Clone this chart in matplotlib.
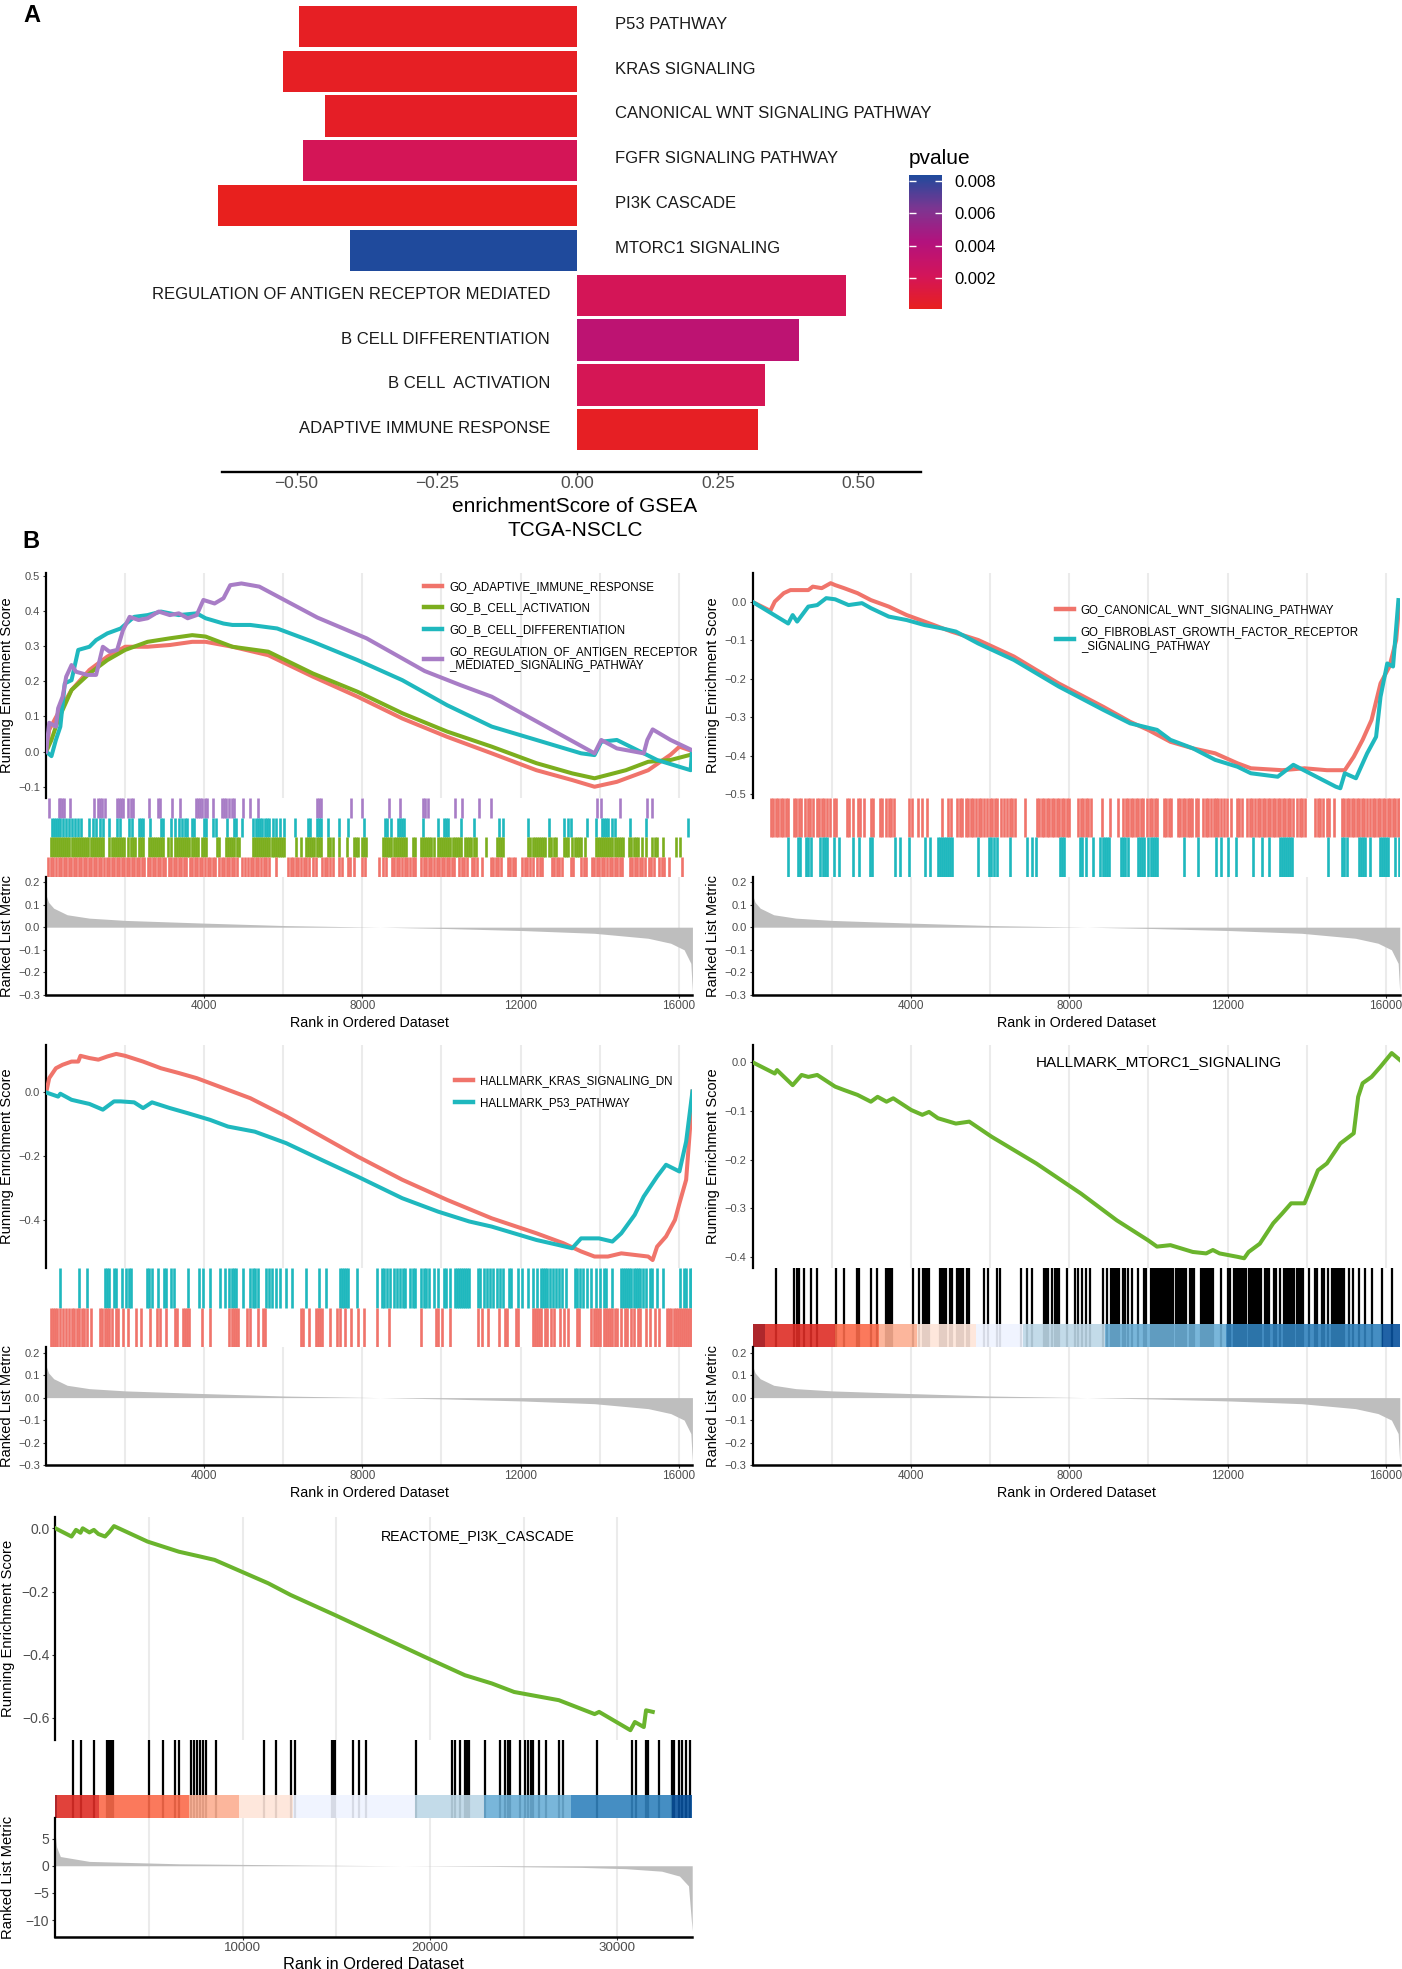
import numpy as np
import matplotlib
matplotlib.use("Agg")
import matplotlib.pyplot as plt
from matplotlib.colors import LinearSegmentedColormap, Normalize
from matplotlib.cm import ScalarMappable
from matplotlib.lines import Line2D

plt.rcParams['font.family'] = ['Liberation Sans', 'DejaVu Sans']
plt.rcParams['axes.unicode_minus'] = True

# ------------------------------------------------------------------ data: panel A
pathways = ["P53 PATHWAY", "KRAS SIGNALING", "CANONICAL WNT SIGNALING PATHWAY",
            "FGFR SIGNALING PATHWAY", "PI3K CASCADE", "MTORC1 SIGNALING",
            "REGULATION OF ANTIGEN RECEPTOR MEDIATED", "B CELL DIFFERENTIATION",
            "B CELL  ACTIVATION", "ADAPTIVE IMMUNE RESPONSE"]
enrichment = [-0.496, -0.525, -0.450, -0.488, -0.640, -0.405, 0.478, 0.394, 0.334, 0.321]
pvalues = [0.0003, 0.0003, 0.0004, 0.0021, 0.0001, 0.00836, 0.0021, 0.0036, 0.0020, 0.0003]
score_ticks = [-0.50, -0.25, 0.00, 0.25, 0.50]
pvalue_ticks = [0.002, 0.004, 0.006, 0.008]

# ------------------------------------------------------------------ data: ranked list metric
N_GENES = 16350
metric_rank = [0, 60, 190, 530, 1090, 2000, 4000, 6070, 8450, 10140, 12070, 13870, 15230, 15800, 16140, 16310, 16350]
metric_val = [0.14, 0.11, 0.084, 0.055, 0.040, 0.030, 0.018, 0.007, 0.0, -0.006, -0.015, -0.027, -0.049, -0.071, -0.10, -0.16, -0.29]
N_GENES_PI3K = 34000
metric5_rank = [0, 60, 264, 1815, 6590, 13750, 18520, 23300, 28070, 30450, 32370, 33320, 33800, 34000]
metric5_val = [5.5, 3.5, 1.7, 0.8, 0.36, 0.12, 0.0, -0.12, -0.3, -0.54, -1.0, -1.9, -3.7, -12.0]

# ------------------------------------------------------------------ data: panel B1 (GO immune sets)
adapt_rank = [0, 76, 302, 641, 1094, 1546, 1998, 2564, 3129, 3695, 4033, 4712, 5617, 6748, 7879, 9010, 10141, 11272, 12403, 13308, 13873, 14439, 15231, 15796, 16022, 16305]
adapt_es = [0.0, 0.062, 0.109, 0.175, 0.232, 0.270, 0.298, 0.298, 0.303, 0.312, 0.312, 0.298, 0.274, 0.213, 0.156, 0.094, 0.042, -0.005, -0.053, -0.081, -0.100, -0.086, -0.053, -0.009, 0.014, 0.003]
bact_rank = [0, 133, 302, 641, 1094, 1546, 1998, 2564, 3129, 3695, 4033, 4712, 5617, 6748, 7879, 9010, 10141, 11272, 12403, 13308, 13873, 14665, 15231, 15796, 16305]
bact_es = [0.0, 0.033, 0.090, 0.175, 0.222, 0.260, 0.289, 0.312, 0.322, 0.331, 0.327, 0.298, 0.284, 0.222, 0.170, 0.109, 0.057, 0.014, -0.033, -0.062, -0.076, -0.053, -0.029, -0.024, -0.009]
bdiff_rank = [0, 133, 245, 358, 471, 641, 811, 1094, 1263, 1546, 1885, 2225, 2564, 2904, 3354, 3807, 4033, 4486, 4712, 5164, 5843, 6748, 7879, 9010, 10141, 11272, 12403, 13534, 13873, 14043, 14439, 15118, 15457, 16305, 16339]
bdiff_es = [0.0, -0.013, 0.033, 0.071, 0.194, 0.203, 0.289, 0.298, 0.317, 0.336, 0.350, 0.383, 0.388, 0.398, 0.388, 0.393, 0.379, 0.364, 0.360, 0.360, 0.350, 0.312, 0.260, 0.203, 0.132, 0.071, 0.033, -0.005, -0.010, 0.028, 0.033, -0.005, -0.024, -0.053, 0.004]
regag_rank = [0, 76, 245, 302, 415, 506, 641, 754, 1037, 1263, 1433, 1603, 1795, 1942, 2111, 2338, 2564, 2847, 3129, 3354, 3580, 3807, 3977, 4260, 4486, 4656, 4939, 5391, 6861, 8105, 9575, 10480, 11272, 13873, 14043, 14439, 15118, 15208, 15344, 15796, 16339]
regag_es = [0.0, 0.082, 0.071, 0.123, 0.156, 0.213, 0.246, 0.227, 0.218, 0.218, 0.298, 0.284, 0.289, 0.345, 0.383, 0.374, 0.379, 0.398, 0.388, 0.393, 0.379, 0.388, 0.431, 0.421, 0.436, 0.473, 0.478, 0.469, 0.381, 0.322, 0.229, 0.189, 0.156, -0.005, 0.033, 0.009, -0.005, 0.033, 0.063, 0.033, 0.004]

regag_hits = [77, 312, 354, 407, 450, 610, 1206, 1313, 1366, 1419, 1494, 1792, 1845, 1898, 1952, 2080, 2133, 2207, 2612, 2825, 2889, 3176, 3389, 3784, 3837, 3890, 3954, 4018, 4071, 4210, 4444, 4497, 4561, 4614, 4700, 4763, 4976, 5147, 5349, 6840, 6893, 6947, 7724, 7990, 8683, 8959, 9535, 9588, 9652, 10333, 10525, 10940, 11260, 13933, 14039, 14518, 15190, 15339]
bdiff_hits = [141, 194, 248, 301, 354, 429, 503, 567, 642, 727, 802, 876, 1089, 1174, 1249, 1366, 1441, 1600, 1792, 1867, 2101, 2165, 2346, 2399, 2452, 2633, 2910, 2963, 3145, 3251, 3358, 3432, 3517, 3570, 3698, 3752, 3996, 4050, 4210, 4295, 4582, 4742, 4795, 4955, 5243, 5296, 5349, 5402, 5466, 5541, 5594, 5647, 5732, 5807, 5914, 6020, 6286, 6627, 6680, 6840, 6893, 6947, 7138, 7405, 7639, 8044, 8576, 8629, 8736, 8896, 8949, 9002, 9055, 9535, 9907, 10067, 10120, 10174, 10493, 10813, 11452, 11558, 12197, 12730, 13102, 13209, 13283, 13688, 13901, 14061, 14114, 14167, 14220, 14327, 14402, 14775, 15179, 16244]
bact_hits = [109, 163, 216, 269, 322, 376, 429, 482, 535, 589, 642, 695, 748, 802, 855, 908,
             961, 1015, 1068, 1121, 1174, 1228, 1281, 1334, 1387, 1441,
             1600, 1654, 1707, 1760, 1813, 1867, 1920, 1973, 2080, 2133, 2186, 2239, 2346, 2399, 2452,
             2591, 2644, 2697, 2750, 2804, 2857, 2910, 2963, 3091, 3145,
             3251, 3304, 3358, 3411, 3464, 3517, 3570, 3624, 3677, 3730, 3784, 3837, 3943, 3996, 4050,
             4316, 4369, 4550, 4604, 4657, 4710, 4763, 4817, 4870,
             5221, 5275, 5328, 5381, 5434, 5488, 5541, 5594, 5647, 5701, 5754, 5807, 5860, 5914, 5967, 6020,
             6318, 6446, 6574, 6627, 6680, 6734, 6787, 6840, 6893, 6947, 7138, 7192, 7245, 7405, 7618,
             7777, 7831, 7884, 7990, 8044, 8097,
             8523, 8576, 8629, 8683, 8736, 8789, 8842, 8896, 8949, 9002, 9055, 9109, 9268, 9322,
             9481, 9535, 9588, 9641, 9694, 9748, 9801,
             9907, 9961, 10014, 10067, 10120, 10174, 10227, 10280, 10333, 10387, 10440, 10493,
             10600, 10653, 10706, 10760, 10813, 10866, 11132, 11398, 11452, 11505, 11558,
             12197, 12250, 12304, 12357, 12410, 12463, 12517, 12570, 12623, 12730, 12783, 12836, 12889,
             13102, 13156, 13209, 13315, 13369, 13422, 13475, 13528, 13635,
             13901, 13954, 14008, 14061, 14114, 14167, 14221, 14274, 14327, 14380, 14434, 14487, 14540, 14593,
             14753, 14806, 14860, 14913, 14966, 15073, 15179, 15339, 15392, 15445, 15605, 15925, 16031]
adapt_hits = [56, 120, 184, 248, 312, 376, 439, 503, 567, 631, 695, 759, 823, 887, 951, 1015, 1078, 1142,
              1206, 1270, 1334, 1398, 1462, 1526, 1590, 1654, 1717, 1781, 1845, 1909, 1973, 2037, 2101,
              2165, 2229, 2293, 2356, 2420, 2484,
              2569, 2633, 2697, 2761, 2825, 2889, 2953, 3017, 3102, 3166, 3230, 3294, 3358, 3421, 3485, 3549,
              3634, 3698, 3762, 3826, 3890, 3954, 4018, 4082, 4146, 4210, 4273,
              4380, 4444, 4508, 4572, 4636, 4699, 4763, 4827, 4966, 5030, 5093,
              5179, 5243, 5306, 5370, 5434, 5498, 5562, 5626, 5807,
              6127, 6190, 6254, 6318, 6382, 6446, 6521, 6584, 6648, 6755, 6819,
              6989, 7053, 7117, 7181, 7245, 7415, 7479, 7628, 7692, 7777, 8001, 8065, 8416, 8533, 8597,
              8746, 8810, 8874, 8938, 9002, 9066, 9130, 9194, 9279, 9343,
              9492, 9556, 9620, 9684, 9748, 9811, 9875, 9939, 10003, 10067, 10131, 10195, 10259, 10323,
              10450, 10514, 10578, 10642, 10770, 10834, 10898, 11026,
              11249, 11313, 11377, 11441, 11505, 11675, 11739, 11803, 11867,
              12048, 12112, 12176, 12240, 12304, 12421, 12485, 12548,
              12793, 12857, 12921, 12985, 13049, 13273, 13337, 13539, 13603, 13667,
              13805, 13869, 13933, 13997, 14061, 14125, 14189, 14252, 14316, 14380, 14444, 14508, 14572,
              14764, 14828, 14891, 14955, 15019, 15083, 15147, 15242, 15307, 15371,
              15509, 15573, 15637, 15765, 16084]

# ------------------------------------------------------------------ data: panel B2 (WNT / FGFR)
wnt_rank = [0, 445, 558, 784, 953, 1405, 1518, 1744, 1970, 2083, 2309, 2648, 2986, 3438, 3890, 4342, 5020, 5698, 6601, 7731, 8860, 9538, 9990, 10555, 11120, 11684, 12249, 12588, 13379, 13944, 14509, 14961, 15187, 15412, 15638, 15864, 16090, 16260, 16339]
wnt_es = [0.0, -0.023, 0.001, 0.023, 0.031, 0.031, 0.040, 0.036, 0.049, 0.044, 0.036, 0.023, 0.005, -0.012, -0.034, -0.051, -0.077, -0.099, -0.142, -0.212, -0.273, -0.312, -0.333, -0.364, -0.381, -0.394, -0.420, -0.433, -0.438, -0.433, -0.438, -0.438, -0.403, -0.359, -0.307, -0.212, -0.168, -0.099, -0.003]
fgf_rank = [0, 897, 1010, 1123, 1405, 1631, 1857, 2083, 2422, 2761, 2986, 3438, 3890, 4342, 4794, 5133, 5698, 6601, 7731, 8860, 9538, 10216, 10555, 11120, 11684, 12249, 12588, 13266, 13661, 14735, 14848, 14961, 15243, 15526, 15752, 15864, 16034, 16180, 16316]
fgf_es = [0.0, -0.056, -0.034, -0.051, -0.012, -0.008, 0.010, 0.007, -0.008, -0.003, -0.016, -0.038, -0.047, -0.060, -0.069, -0.077, -0.108, -0.151, -0.220, -0.281, -0.316, -0.333, -0.359, -0.381, -0.411, -0.429, -0.446, -0.455, -0.424, -0.481, -0.485, -0.446, -0.459, -0.394, -0.351, -0.247, -0.160, -0.168, 0.005]
wnt_hits = [461, 513, 577, 640, 703, 766, 830, 903, 1040, 1104, 1167, 1230, 1325, 1388, 1451, 1515,
            1620, 1683, 1747, 1810, 1873, 1957, 2052, 2105, 2379, 2442, 2537, 2664, 2716, 2822, 2980, 3032,
            3222, 3275, 3380, 3444, 3507, 3570, 3960, 4023, 4171, 4276, 4413, 4772, 4940, 5003,
            5172, 5235, 5299, 5383, 5446, 5509, 5573, 5646, 5710, 5773, 5857, 5920, 5984, 6047, 6110, 6173,
            6279, 6342, 6437, 6500, 6563, 6627, 6890, 7175, 7238,
            7301, 7364, 7428, 7491, 7554, 7617, 7681, 7744, 7807, 7870, 7934, 7997,
            8229, 8292, 8355, 8418, 8482, 8545, 8819, 9019, 9230,
            9367, 9430, 9493, 9557, 9620, 9683, 9746, 9810, 9873, 9968, 10031, 10094, 10158, 10221,
            10389, 10453, 10516, 10579, 10737, 10800, 10864, 10927, 10990, 11053, 11106, 11190, 11254,
            11391, 11454, 11517, 11580, 11644, 11707, 11770, 11833, 11918, 11981, 12086,
            12234, 12297, 12360, 12497, 12561, 12624, 12687,
            12761, 12824, 12887, 12951, 13014, 13077, 13140, 13204, 13267, 13330, 13393, 13457, 13520, 13583, 13646,
            13762, 13825, 13889, 13952, 14215, 14279, 14342, 14405, 14511, 14574, 14690,
            14890, 14953, 15016, 15080, 15143, 15206, 15269, 15332, 15396, 15459, 15522,
            15607, 15670, 15733, 15796, 15860, 15923, 15986, 16049, 16112, 16176, 16239, 16302, 16345]
fgf_hits = [903, 1146, 1199, 1357, 1409, 1462, 1704, 1778, 1831, 1884, 2042, 2179, 2537, 2695, 2959, 3011,
            3602, 3728, 3960, 4361, 4487, 4677, 4729, 4782, 4835, 4888, 4940, 4993, 5046, 5699, 5973, 6026,
            6100, 6173, 6500, 6943, 7069, 7154, 7765, 7807, 7860, 8260, 8313, 8418, 8608, 8787, 8840, 8893,
            8945, 8998, 9314, 9367, 9420, 9472, 9736, 9789, 9841, 9894, 10000, 10052, 10105, 10158, 10210,
            10895, 11264, 11707, 11844, 12002, 12213, 12634, 12866, 13056, 13320, 13372, 13425, 13478,
            13530, 13583, 13636, 14532, 14901, 14953, 15006, 15322, 15375, 15428, 15480, 15586, 15850,
            15902, 15955, 16007, 16060, 16218, 16323]

# ------------------------------------------------------------------ data: panel B3 (KRAS DN / P53)
kras_rank = [0, 76, 245, 415, 641, 811, 867, 1094, 1320, 1546, 1772, 1998, 2451, 2903, 3355, 3807, 4260, 4712, 5164, 6069, 6974, 7878, 9009, 10140, 11271, 12402, 13081, 13533, 13872, 14212, 14551, 14890, 15230, 15343, 15456, 15682, 15908, 16021, 16191, 16305, 16350]
kras_es = [0.0, 0.045, 0.076, 0.087, 0.097, 0.097, 0.115, 0.108, 0.103, 0.113, 0.121, 0.115, 0.097, 0.076, 0.061, 0.045, 0.024, 0.003, -0.018, -0.075, -0.138, -0.201, -0.274, -0.337, -0.395, -0.442, -0.473, -0.499, -0.515, -0.515, -0.505, -0.510, -0.515, -0.526, -0.484, -0.452, -0.400, -0.348, -0.274, -0.086, 0.003]
p53_rank = [0, 302, 358, 641, 811, 1094, 1433, 1716, 1885, 2225, 2451, 2677, 3129, 3581, 4146, 4599, 5277, 6069, 6974, 7878, 9009, 9914, 10705, 11271, 12402, 12968, 13307, 13533, 13985, 14325, 14551, 14890, 15116, 15456, 15682, 16021, 16191, 16350]
p53_es = [0.0, -0.013, -0.004, -0.023, -0.028, -0.036, -0.054, -0.028, -0.028, -0.031, -0.049, -0.031, -0.049, -0.065, -0.086, -0.107, -0.123, -0.159, -0.212, -0.264, -0.332, -0.374, -0.405, -0.421, -0.463, -0.479, -0.489, -0.458, -0.458, -0.468, -0.442, -0.384, -0.327, -0.264, -0.227, -0.248, -0.154, 0.003]
p53_hits = [354, 823, 1036, 1494, 1547, 1600, 1707, 1760, 1920, 2026, 2101, 2154, 2559, 2612, 2665, 2825,
            2985, 3038, 3166, 3230, 3592, 3869, 3975, 4135, 4401, 4529, 4636, 4689, 4742, 4795, 4976, 5168,
            5221, 5275, 5360, 5573, 5647, 5701, 5807, 5914, 6073, 6212, 6584, 6893, 7085, 7426, 7479, 7532,
            7586, 7639, 7852, 8363, 8491, 8555, 8629, 8704, 8789, 8874, 8949, 9023, 9087, 9194, 9268, 9322,
            9481, 9556, 9620, 9694, 9801, 9907, 10067, 10120, 10227, 10333, 10387, 10440, 10493, 10546,
            10600, 10653, 10706, 10919, 10972, 11079, 11153, 11239, 11292, 11398, 11473, 11558, 11718,
            11771, 11931, 12037, 12197, 12304, 12410, 12517, 12570, 12623, 12676, 12751, 12815, 12889,
            12964, 13049, 13156, 13369, 13422, 13496, 13582, 13688, 13795, 13901, 14008, 14114, 14167,
            14327, 14540, 14593, 14647, 14700, 14753, 14806, 14860, 14913, 14966, 15019, 15094, 15179,
            15286, 15339, 15445, 15605, 16031, 16138, 16191, 16297, 16345]
kras_hits = [109, 163, 216, 269, 354, 429, 503, 567, 642, 695, 780, 823, 908, 961, 1036, 1142, 1355, 1419,
             1494, 1547, 1600, 1675, 1760, 1813, 1941, 2080, 2271, 2399, 2633, 2804, 2878, 3038, 3251, 3304,
             3464, 3517, 3570, 3624, 3943, 4156, 4636, 4689, 4742, 4795, 4849, 5083, 5147, 5360, 5488, 5541,
             6446, 6499, 6659, 6819, 6872, 6925, 6979, 7192, 7351, 7426, 7564, 7703, 7884, 8044, 8363, 8683,
             9481, 9854, 9907, 10014, 10227, 10919, 11026, 11185, 11452, 11611, 11665, 11878, 11931, 12304,
             12357, 12410, 12463, 12517, 12623, 12676, 12783, 12836, 12996, 13102, 13209, 13422, 13475,
             13795, 13848, 13901, 13954, 14008, 14114, 14167, 14221, 14274, 14327, 14380, 14434, 14540,
             14647, 14700, 14806, 14860, 14966, 15019, 15179, 15286, 15392, 15499, 15712, 15765, 15818,
             15871, 15925, 15978, 16031, 16084, 16138, 16191, 16244, 16297, 16345]

# ------------------------------------------------------------------ data: panel B4 (MTORC1)
mtor_rank = [0, 558, 614, 1010, 1236, 1405, 1631, 2083, 2309, 2648, 2986, 3156, 3382, 3551, 4003, 4286, 4455, 4681, 5133, 5472, 6036, 7166, 8296, 9200, 9990, 10216, 10555, 11120, 11458, 11628, 11797, 12249, 12418, 12531, 12814, 13153, 13379, 13605, 13944, 14283, 14509, 14848, 15187, 15299, 15412, 15638, 15864, 16146, 16350]
mtor_es = [0.0, -0.023, -0.016, -0.047, -0.026, -0.030, -0.026, -0.050, -0.057, -0.067, -0.081, -0.071, -0.081, -0.074, -0.098, -0.108, -0.102, -0.115, -0.126, -0.122, -0.153, -0.208, -0.270, -0.325, -0.366, -0.379, -0.376, -0.390, -0.393, -0.386, -0.393, -0.400, -0.403, -0.390, -0.373, -0.331, -0.311, -0.290, -0.290, -0.222, -0.208, -0.167, -0.146, -0.071, -0.043, -0.030, -0.009, 0.019, 0.005]
mtor_hits = [598, 1040, 1114, 1167, 1304, 1462, 1620, 2115, 2305, 2642, 2695, 2990, 3148, 3359, 3412,
             3465, 3517, 4044, 4202, 4308, 4361, 4413, 4466, 4729, 4782, 4835, 4888, 4993, 5046, 5151,
             5204, 5257, 5309, 5415, 5467, 5857, 5942, 6184, 6247, 6785, 6922, 7048, 7364, 7417, 7470,
             7575, 7628, 7681, 7733, 7944, 8155, 8208, 8313, 8418, 8524, 8840, 8945, 9051, 9103, 9156,
             9209, 9262, 9367, 9420, 9472, 9578, 9736, 9894, 9947, 10052, 10105, 10158, 10210, 10263,
             10316, 10368, 10421, 10474, 10527, 10579, 10632, 10685, 10737, 10790, 10843, 10895, 10948,
             11053, 11106, 11159, 11317, 11370, 11422, 11475, 11528, 11580, 11633, 11844, 12002, 12055,
             12160, 12213, 12266, 12318, 12371, 12424, 12476, 12529, 12582, 12634, 12687, 12740, 12793,
             12845, 12951, 13003, 13056, 13161, 13214, 13320, 13425, 13478, 13530, 13583, 13636, 13688,
             13741, 13794, 13846, 13899, 14057, 14215, 14268, 14374, 14426, 14532, 14637, 14690, 14742,
             14795, 14848, 14901, 14953, 15059, 15164, 15322, 15480, 15638, 15902, 16165]
mtor_band_breaks = [0, 300, 2090, 3200, 4150, 5630, 6840, 8890, 11950, 15900, 16350]

# ------------------------------------------------------------------ data: panel B5 (PI3K cascade)
pi3k_rank = [0, 861, 1100, 1339, 1458, 1816, 2054, 2293, 2651, 2890, 3129, 4919, 6590, 7783, 8500, 11364, 12558, 14945, 19718, 21867, 23299, 24492, 26880, 28789, 29028, 30699, 30938, 31415, 31535, 31893]
pi3k_es = [0.0, -0.026, -0.005, -0.014, 0.0, -0.013, -0.005, -0.018, -0.026, -0.011, 0.007, -0.042, -0.074, -0.090, -0.100, -0.174, -0.211, -0.275, -0.407, -0.465, -0.491, -0.518, -0.544, -0.588, -0.581, -0.639, -0.613, -0.629, -0.576, -0.581]
pi3k_hits = [929, 1372, 2036, 2744, 2810, 2877, 2965, 3032, 3098, 4979, 5731, 6395, 6617, 7236, 7391,
             7568, 7723, 7900, 8055, 8564, 11153, 11773, 12591, 12813, 14760, 14827, 14915, 15867, 16199,
             16597, 19231, 21178, 21355, 21621, 21842, 21953, 22063, 22949, 23723, 24011, 24166, 24276,
             24830, 25051, 25206, 25383, 25494, 25825, 26202, 26888, 27109, 28924, 30805, 30982, 31535,
             31624, 32243, 32907, 33018, 33305, 33460, 33682, 33903]
pi3k_band_breaks = [0, 100, 2320, 7130, 9780, 12660, 19190, 22900, 27550, 32910, 34000]

# ------------------------------------------------------------------ styles
RED, GREEN, CYAN, PURPLE = "#F0746B", "#7CAE1E", "#1FB8BE", "#A87DC6"
LIME = "#6AB42D"
BAND_COLORS = ["#A50F15", "#DE2D26", "#FB6A4A", "#FCAE91", "#FEE5D9",
               "#EFF3FF", "#BDD7E7", "#6BAED6", "#3182BD", "#08519C"]
GRID = "#EBEBEB"
TXT = "#4D4D4D"
HIT_LW = 1.9

W, H = 1402, 1969
fig = plt.figure(figsize=(W / 100, H / 100), dpi=100)
fig.patch.set_facecolor("white")


def px_axes(left, top, right, bottom):
    return fig.add_axes([left / W, 1 - bottom / H, (right - left) / W, (bottom - top) / H])


def fig_text(x, y, s, **kw):
    fig.text(x / W, 1 - y / H, s, **kw)


def fmt(vals, dec):
    return [f"{v:.{dec}f}".replace("-", "\u2212") for v in vals]


# ================================================================== panel A
cmap = LinearSegmentedColormap.from_list(
    "pv", [(0.0, "#E8201E"), (0.25, "#D3155A"), (0.5, "#B3127D"), (0.75, "#7D3591"), (1.0, "#1F4A9C")])
norm = Normalize(min(pvalues), max(pvalues))

axA = px_axes(222.4, 0, 921.3, 472)
ypos = np.arange(len(pathways))[::-1]
bars = axA.barh(ypos, enrichment, height=0.92, color=cmap(norm(pvalues)), linewidth=0)
for b in bars:
    b.set_clip_on(False)
axA.set_xlim(-0.632, 0.612)
axA.set_ylim(-0.944, 9.59)
for s in ["top", "right", "left"]:
    axA.spines[s].set_visible(False)
axA.spines["bottom"].set_linewidth(1.7)
axA.set_yticks([])
axA.set_xticks(score_ticks)
axA.set_xticklabels(fmt(score_ticks, 2))
axA.tick_params(axis="x", length=2.2, width=1.0, color="#333333", labelsize=12.5,
                labelcolor=TXT, pad=1)
for y, v, name in zip(ypos, enrichment, pathways):
    if v < 0:
        axA.text(0.0675, y + 0.05, name, ha="left", va="center", fontsize=12, color="#1A1A1A")
    else:
        axA.text(-0.049, y + 0.02, name, ha="right", va="center", fontsize=12, color="#1A1A1A")

fig_text(575, 506, "enrichmentScore of GSEA", ha="center", va="center", fontsize=15)
fig_text(575, 531, "TCGA-NSCLC", ha="center", va="center", fontsize=15)

cax = px_axes(909, 175, 942, 309)
cb = fig.colorbar(ScalarMappable(norm=norm, cmap=cmap), cax=cax, ticks=pvalue_ticks)
cb.outline.set_visible(False)
cb.ax.set_yticklabels([f"{t:.3f}" for t in pvalue_ticks])
cax.tick_params(axis="y", direction="in", length=5, width=1.0, color="white",
                labelsize=12, pad=8.6, left=True, right=True, labelleft=False, labelright=True)
fig_text(909, 158, "pvalue", ha="left", va="center", fontsize=15)

fig_text(32, 16, "A", ha="center", va="center", fontsize=17, fontweight="bold")
fig_text(31, 541, "B", ha="center", va="center", fontsize=17, fontweight="bold")


# ================================================================== GSEA panels
def gsea(left, right, es_top, es_bot, hit_bot, met_bot, n_genes, curves, hit_rows,
         es_ylim, es_ticks, es_dec, met_ylim, met_ticks, met_dec, x_ticks, grid_step,
         met_r, met_v, band=None, fs=(8, 8.5, 10.3, 10.5), ylab_x=7):
    ytick_fs, xtick_fs, xlab_fs, ylab_fs = fs
    # --- running enrichment score
    ax = px_axes(left, es_top, right, es_bot)
    ax.set_xlim(0, n_genes)
    ax.set_ylim(*es_ylim)
    for g in range(grid_step, n_genes, grid_step):
        ax.axvline(g, color=GRID, lw=1.5, zorder=0)
    for r, e, c in curves:
        ax.plot(r, e, color=c, lw=2.9, solid_joinstyle="round", zorder=3)
    for s in ["top", "right", "bottom"]:
        ax.spines[s].set_visible(False)
    ax.spines["left"].set_linewidth(1.6)
    ax.set_xticks([])
    ax.set_yticks(es_ticks)
    ax.set_yticklabels(fmt(es_ticks, es_dec))
    ax.tick_params(axis="y", length=2.2, width=0.8, color="#333333", pad=2.2,
                   labelsize=ytick_fs, labelcolor=TXT)
    # --- hits
    hax = px_axes(left, es_bot, right, hit_bot)
    hax.set_xlim(0, n_genes)
    hax.set_ylim(0, 1)
    hax.axis("off")
    if band is None:
        nrows = len(hit_rows)
        for i, (hits, c) in enumerate(hit_rows):
            hax.vlines(hits, 1 - (i + 1) / nrows, 1 - i / nrows, color=c, lw=HIT_LW, zorder=2)
    else:
        breaks, frac = band
        for hits, c in hit_rows:
            hax.vlines(hits, 0, 1, color=c, lw=HIT_LW * 0.85, zorder=2)
        for i in range(len(breaks) - 1):
            hax.axvspan(breaks[i], breaks[i + 1], ymin=0, ymax=frac, color=BAND_COLORS[i],
                        alpha=0.9, lw=0, zorder=3)
    # --- ranked list metric
    max_ = px_axes(left, hit_bot, right, met_bot)
    max_.set_xlim(0, n_genes)
    max_.set_ylim(*met_ylim)
    for g in range(grid_step, n_genes, grid_step):
        max_.axvline(g, color=GRID, lw=1.5, zorder=0)
    max_.fill_between(met_r, 0, met_v, color="#BEBEBE", lw=0, zorder=2)
    for s in ["top", "right"]:
        max_.spines[s].set_visible(False)
    max_.spines["left"].set_linewidth(1.6)
    max_.spines["bottom"].set_linewidth(1.8)
    max_.set_yticks(met_ticks)
    max_.set_yticklabels(fmt(met_ticks, met_dec))
    max_.set_xticks(x_ticks)
    max_.set_xticklabels([str(t) for t in x_ticks])
    max_.tick_params(axis="y", length=2.2, width=0.8, color="#333333", pad=2.2,
                     labelsize=ytick_fs, labelcolor=TXT)
    max_.tick_params(axis="x", length=2.2, width=0.8, color="#333333", pad=1.5,
                     labelsize=xtick_fs, labelcolor=TXT)
    # --- axis titles
    fig_text(ylab_x, (es_top + es_bot) / 2, "Running Enrichment Score", rotation=90,
             ha="center", va="center", fontsize=ylab_fs)
    fig_text(ylab_x, (hit_bot + met_bot) / 2, "Ranked List Metric", rotation=90,
             ha="center", va="center", fontsize=ylab_fs)
    fig_text((left + right) / 2, met_bot + 28, "Rank in Ordered Dataset",
             ha="center", va="center", fontsize=xlab_fs)
    return ax


L1, R1 = 46.2, 46.2 + N_GENES * 0.039525
L2, R2 = 752.7, 752.7 + N_GENES * 0.039575
xt = [4000, 8000, 12000, 16000]
mt = [0.2, 0.1, 0.0, -0.1, -0.2, -0.3]

# B1
ax1 = gsea(L1, R1, 573, 798, 877, 995, N_GENES,
           [(adapt_rank, adapt_es, RED), (bact_rank, bact_es, GREEN),
            (bdiff_rank, bdiff_es, CYAN), (regag_rank, regag_es, PURPLE)],
           [(regag_hits, PURPLE), (bdiff_hits, CYAN), (bact_hits, GREEN), (adapt_hits, RED)],
           (-0.132, 0.5077), [-0.1, 0.0, 0.1, 0.2, 0.3, 0.4, 0.5], 1,
           (-0.3, 0.222), mt, 1, xt, 2000, metric_rank, metric_val, ylab_x=7)
lg_kw = dict(loc="upper left", frameon=False, borderaxespad=0, borderpad=0, fontsize=8.3,
             handlelength=1.56, handletextpad=0.58, labelspacing=0.84)
ax1.legend([Line2D([], [], color=c, lw=3.2) for c in [RED, GREEN, CYAN, PURPLE]],
           ["GO_ADAPTIVE_IMMUNE_RESPONSE", "GO_B_CELL_ACTIVATION", "GO_B_CELL_DIFFERENTIATION",
            "GO_REGULATION_OF_ANTIGEN_RECEPTOR\n_MEDIATED_SIGNALING_PATHWAY"],
           bbox_to_anchor=(0.585, 0.966), **lg_kw)

# B2
ax2 = gsea(L2, R2, 573, 798, 877, 995, N_GENES,
           [(wnt_rank, wnt_es, RED), (fgf_rank, fgf_es, CYAN)],
           [(wnt_hits, RED), (fgf_hits, CYAN)],
           (-0.5104, 0.0755), [-0.5, -0.4, -0.3, -0.2, -0.1, 0.0], 1,
           (-0.3, 0.222), mt, 1, xt, 2000, metric_rank, metric_val, ylab_x=713)
ax2.legend([Line2D([], [], color=c, lw=3.2) for c in [RED, CYAN]],
           ["GO_CANONICAL_WNT_SIGNALING_PATHWAY", "GO_FIBROBLAST_GROWTH_FACTOR_RECEPTOR\n_SIGNALING_PATHWAY"],
           bbox_to_anchor=(0.469, 0.861), **lg_kw)

# B3
ax3 = gsea(L1, R1, 1045, 1268, 1347, 1465, N_GENES,
           [(kras_rank, kras_es, RED), (p53_rank, p53_es, CYAN)],
           [(p53_hits, CYAN), (kras_hits, RED)],
           (-0.551, 0.149), [-0.4, -0.2, 0.0], 1,
           (-0.3, 0.2254), mt, 1, xt, 2000, metric_rank, metric_val, ylab_x=7)
ax3.legend([Line2D([], [], color=c, lw=3.2) for c in [RED, CYAN]],
           ["HALLMARK_KRAS_SIGNALING_DN", "HALLMARK_P53_PATHWAY"],
           bbox_to_anchor=(0.633, 0.865), **lg_kw)

# B4
ax4 = gsea(L2, R2, 1045, 1268, 1347, 1465, N_GENES,
           [(mtor_rank, mtor_es, LIME)],
           [(mtor_hits, "black")],
           (-0.423, 0.0356), [-0.4, -0.3, -0.2, -0.1, 0.0], 1,
           (-0.3, 0.2254), mt, 1, xt, 2000, metric_rank, metric_val,
           band=(mtor_band_breaks, 0.295), ylab_x=713)
ax4.text(0.628, 0.925, "HALLMARK_MTORC1_SIGNALING", transform=ax4.transAxes,
         ha="center", va="center", fontsize=11)

# B5
L5, R5 = 55.4, 55.4 + N_GENES_PI3K * 0.018730
ax5 = gsea(L5, R5, 1517, 1740, 1818, 1936.7, N_GENES_PI3K,
           [(pi3k_rank, pi3k_es, LIME)],
           [(pi3k_hits, "black")],
           (-0.670, 0.0358), [-0.6, -0.4, -0.2, 0.0], 1,
           (-13.06, 8.79), [5, 0, -5, -10], 0, [10000, 20000, 30000], 5000,
           metric5_rank, metric5_val, band=(pi3k_band_breaks, 0.30),
           fs=(10, 9.6, 11.8, 10.6), ylab_x=8)
ax5.text(0.664, 0.916, "REACTOME_PI3K_CASCADE", transform=ax5.transAxes,
         ha="center", va="center", fontsize=10.2)

fig.savefig("out.png", dpi=100, facecolor="white")
